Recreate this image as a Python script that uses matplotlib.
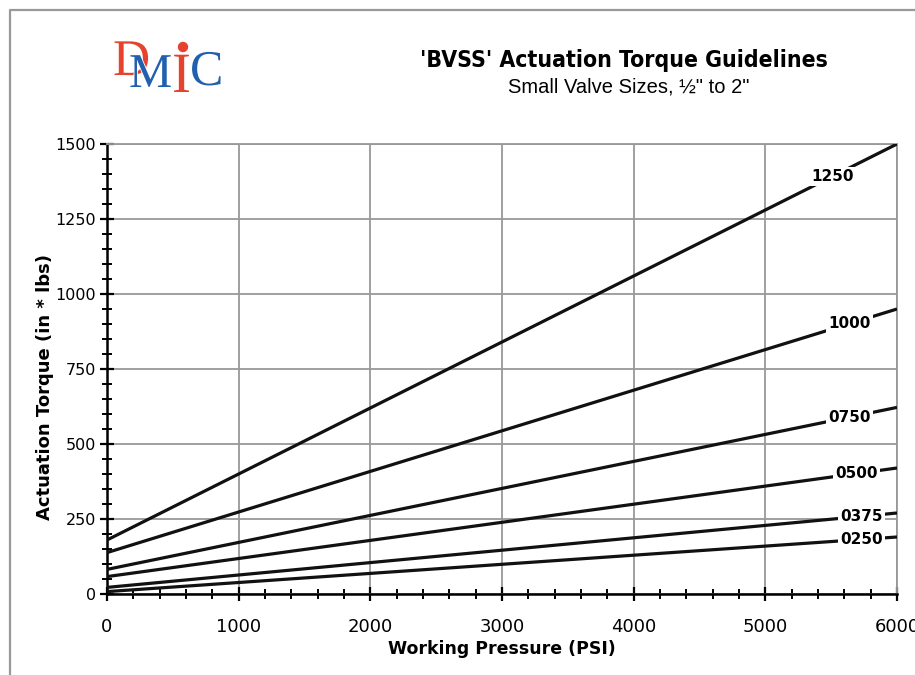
"""BVSS actuation torque guideline chart, small valve sizes."""

import matplotlib.pyplot as plt
import matplotlib.patheffects as pe
from matplotlib.lines import Line2D
from matplotlib.patches import Circle
from matplotlib.transforms import IdentityTransform
from matplotlib.ticker import MultipleLocator

PRESSURE = [0, 6000]
SIZES = ["1250", "1000", "0750", "0500", "0375", "0250"]
TORQUE = {
    "1250": [180, 1500],
    "1000": [138, 950],
    "0750": [82, 622],
    "0500": [58, 420],
    "0375": [22, 270],
    "0250": [8, 190],
}
# x position (PSI) where each curve carries its label
LABEL_AT = {"1250": 5510, "1000": 5640, "0750": 5640, "0500": 5690, "0375": 5730, "0250": 5730}

GRID_COLOR = "#999999"
RED = "#E6432E"
BLUE = "#2160AE"

W, H = 915, 675


def logo_text(fig, x, y, char, size, color):
    # x, y in pixels from the top-left corner, y is the baseline
    fig.text(x / W, 1 - y / H, char, color=color, fontsize=size, family="Liberation Serif",
             va="baseline", path_effects=[pe.withStroke(linewidth=1.2, foreground="white")])


def main():
    fig = plt.figure(figsize=(W / 100, H / 100), dpi=100)
    ax = fig.add_axes([107 / W, 81 / H, 790 / W, 450 / H])

    for size in SIZES:
        ax.plot(PRESSURE, TORQUE[size], color="#111111", lw=2.3, solid_capstyle="butt", zorder=3)
        x = LABEL_AT[size]
        y0, y1 = TORQUE[size]
        y = y0 + (y1 - y0) * x / PRESSURE[-1]
        ax.text(x, y, size, ha="center", va="center", fontsize=11, fontweight="bold",
                family="DejaVu Sans", zorder=4,
                bbox=dict(facecolor="white", edgecolor="none", pad=1.5))

    ax.set_xlim(0, 6000)
    ax.set_ylim(0, 1500)
    ax.xaxis.set_major_locator(MultipleLocator(1000))
    ax.xaxis.set_minor_locator(MultipleLocator(200))
    ax.yaxis.set_major_locator(MultipleLocator(250))
    ax.yaxis.set_minor_locator(MultipleLocator(50))
    ax.grid(which="major", color=GRID_COLOR, lw=1.3)
    ax.set_axisbelow(True)

    for side in ("top", "right"):
        ax.spines[side].set_color(GRID_COLOR)
        ax.spines[side].set_linewidth(1.3)
    for side in ("left", "bottom"):
        ax.spines[side].set_color("black")
        ax.spines[side].set_linewidth(1.8)

    ax.tick_params(which="major", direction="inout", length=10, width=1.6, color="black")
    ax.tick_params(which="minor", direction="inout", length=7, width=1.4, color="black")
    ax.tick_params(axis="x", pad=12, labelsize=13)
    ax.tick_params(axis="y", pad=3, labelsize=11.5)

    ax.set_xlabel("Working Pressure (PSI)", fontsize=12.5, fontweight="bold",
                  family="DejaVu Sans", labelpad=3)
    ax.set_ylabel("Actuation Torque (in * lbs)", fontsize=13, fontweight="bold",
                  family="DejaVu Sans")
    ax.yaxis.set_label_coords(-0.067, 0.46)

    # titles
    fig.text(624 / W, 1 - 60 / H, "'BVSS' Actuation Torque Guidelines", ha="center", va="center",
             fontsize=16.5, fontweight="bold", family="DejaVu Sans", fontstretch="condensed")
    fig.text(629 / W, 1 - 87 / H, 'Small Valve Sizes, ½" to 2"', ha="center", va="center",
             fontsize=14.5, family="Liberation Sans")

    # DMIC logo
    logo_text(fig, 113, 75, "D", 37, RED)
    logo_text(fig, 129, 87, "M", 35, BLUE)
    logo_text(fig, 172, 92, "I", 41, RED)
    fig.add_artist(Circle((183, H - 47), 4.5, color=RED, transform=IdentityTransform()))
    logo_text(fig, 190, 85, "C", 36, BLUE)

    # page border
    fig.add_artist(Line2D([10 / W, 10 / W, 1], [0, 1 - 10 / H, 1 - 10 / H],
                          color="#999999", lw=1.6, transform=fig.transFigure))

    fig.savefig("out.png", dpi=100)


if __name__ == "__main__":
    main()
